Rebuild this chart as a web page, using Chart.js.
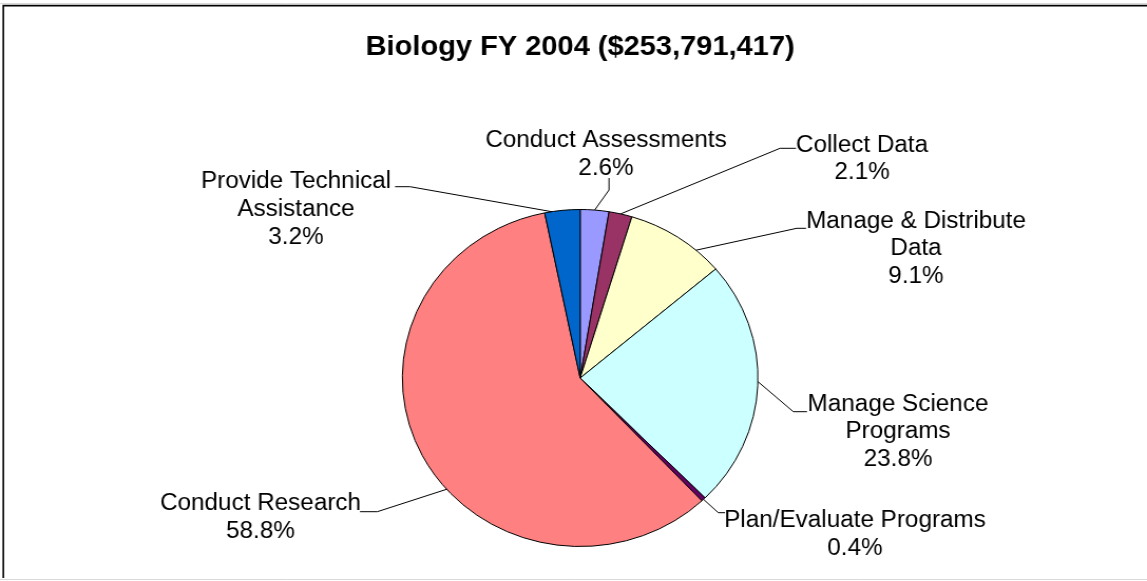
<!DOCTYPE html>
<html>
<head>
<meta charset="utf-8">
<script src="https://cdn.jsdelivr.net/npm/chart.js@4.4.1/dist/chart.umd.min.js"></script>
<style>
  html, body { margin: 0; padding: 0; background: #ffffff; }
  #c { display: block; width: 1147px !important; height: 581px !important; }
</style>
</head>
<body>
<canvas id="c" width="1087" height="581" style="width:1147px;height:581px;display:block"></canvas>
<script>
// ---- data ----
const chartTitle = 'Biology FY 2004 ($253,791,417)';
const categories = ['Conduct Assessments', 'Collect Data', 'Manage & Distribute Data', 'Manage Science Programs', 'Plan/Evaluate Programs', 'Conduct Research', 'Provide Technical Assistance'];
const percentages = [2.6, 2.1, 9.1, 23.8, 0.4, 58.8, 3.2];
const labelLines = [['Conduct Assessments'], ['Collect Data'], ['Manage & Distribute', 'Data'], ['Manage Science', 'Programs'], ['Plan/Evaluate Programs'], ['Conduct Research'], ['Provide Technical', 'Assistance']];
const sliceColors = ['#9999FF', '#993366', '#FFFFCC', '#CCFFFF', '#660066', '#FF8080', '#0066CC'];

// ---- layout (display px; canvas is stretched horizontally by STRETCH) ----
const STRETCH = 1147 / 1087;
const labelLayout = [
  { cx: 606, base: 147.3, attach: 0.5,   via: [[609, 190], [609, 178]] },
  { cx: 862, base: 151.5, attach: 0.5,   via: [[780, 148.3], [796, 148.3]] },
  { cx: 916, base: 227.5, attach: 0.725, via: [[796.7, 228.3], [806, 228.3]] },
  { cx: 898, base: 410.5, attach: 0.485, via: [[793.3, 411.7], [807, 411.7]] },
  { cx: 855, base: 527.3, attach: 0.5,   via: [[718.3, 512.7], [725, 512.7]] },
  { cx: 260.5, base: 510, attach: 0.434, via: [[377.3, 511.7], [360, 511.7]] },
  { cx: 296, base: 188.3, attach: 0.2,   via: [[410, 186.7], [395, 186.7]] }
];
const LINE_H = 27.8;
const LABEL_FONT = '23px "Liberation Sans", Arial, sans-serif';

const frameAndLabels = {
  id: 'frameAndLabels',
  beforeDraw(chart) {
    const ctx = chart.ctx;
    ctx.save();
    ctx.fillStyle = '#ffffff';
    ctx.fillRect(0, 0, chart.width, chart.height);
    ctx.strokeStyle = '#d9d9d9';
    ctx.lineWidth = 1;
    ctx.beginPath();
    ctx.moveTo(0, 3.5); ctx.lineTo(chart.width, 3.5);
    ctx.moveTo(0, 579.5); ctx.lineTo(chart.width, 579.5);
    ctx.stroke();
    ctx.strokeStyle = '#000000';
    ctx.lineWidth = 1.6;
    ctx.beginPath();
    ctx.moveTo(3.3 / STRETCH, 578); ctx.lineTo(3.3 / STRETCH, 5.6); ctx.lineTo(chart.width, 5.6);
    ctx.stroke();
    ctx.restore();
  },
  afterDatasetsDraw(chart) {
    const ctx = chart.ctx;
    const meta = chart.getDatasetMeta(0);
    ctx.save();
    ctx.strokeStyle = '#000000';
    ctx.lineWidth = 1;
    ctx.fillStyle = '#000000';
    ctx.font = LABEL_FONT;
    ctx.textAlign = 'center';
    ctx.textBaseline = 'alphabetic';
    meta.data.forEach((arc, i) => {
      const L = labelLayout[i];
      const p = arc.getProps(['x', 'y', 'startAngle', 'endAngle', 'outerRadius'], true);
      const a = p.startAngle + L.attach * (p.endAngle - p.startAngle);
      const ax = p.x + p.outerRadius * Math.cos(a);
      const ay = p.y + p.outerRadius * Math.sin(a);
      ctx.beginPath();
      ctx.moveTo(ax, ay);
      L.via.forEach(([vx, vy]) => ctx.lineTo(vx / STRETCH, vy));
      ctx.stroke();
      const lines = labelLines[i].concat([percentages[i].toFixed(1) + '%']);
      lines.forEach((t, k) => ctx.fillText(t, L.cx / STRETCH, L.base + k * LINE_H));
    });
    ctx.restore();
  }
};

new Chart(document.getElementById('c'), {
  type: 'pie',
  data: {
    labels: categories,
    datasets: [{
      data: percentages,
      backgroundColor: sliceColors,
      borderColor: '#000000',
      borderWidth: 1,
      radius: 168.5
    }]
  },
  options: {
    responsive: false,
    devicePixelRatio: 1,
    animation: false,
    layout: { padding: { top: 0, bottom: 20, left: 300, right: 287.4 } },
    plugins: {
      legend: { display: false },
      tooltip: { enabled: false },
      title: {
        display: true,
        text: chartTitle,
        color: '#000000',
        font: { family: '"Liberation Sans", Arial, sans-serif', size: 27.5, weight: 'bold', lineHeight: 1.2 },
        padding: { top: 30.6, bottom: 131.4 }
      }
    }
  },
  plugins: [frameAndLabels]
});
</script>
</body>
</html>
